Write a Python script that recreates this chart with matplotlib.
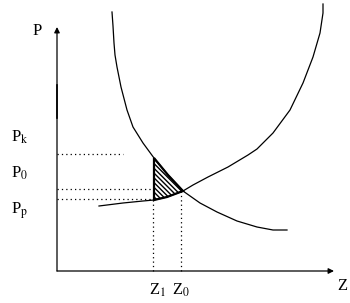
import numpy as np
import matplotlib
matplotlib.use('Agg')
import matplotlib.pyplot as plt

plt.rcParams['font.family'] = ['Liberation Serif', 'DejaVu Serif']
plt.rcParams['mathtext.fontset'] = 'stix'
plt.rcParams['hatch.linewidth'] = 1.0

# demand curve (Z, P)
demand_z = [55, 56, 57, 58, 60, 64, 70, 76, 86, 97, 111, 126, 143, 160, 180, 200, 216, 230]
demand_p = [259, 245, 228, 216, 204, 184, 161, 144, 128, 113, 96, 80, 68, 59, 50, 44, 41, 41]

# supply curve (Z, P)
supply_z = [42, 66, 86, 97, 110, 126, 136, 151, 171, 191, 200, 216, 233, 246, 256, 263, 266, 266]
supply_p = [65, 68, 70, 71, 74, 80, 86, 94, 104, 116, 122, 138, 161, 188, 214, 238, 258, 267]

# price levels and quantities
price_names = [r'P$_{\mathrm{k}}$', r'P$_{0}$', r'P$_{\mathrm{p}}$']
price_vals = [117, 82, 72]
price_ends = [66, 96, 96]
qty_names = [r'Z$_{1}$', r'Z$_{0}$']
qty_vals = [96, 124]
qty_tops = [71, 80]

fig = plt.figure(figsize=(3.5, 3.03), dpi=100)
ax = fig.add_axes([0, 0, 1, 1])
ax.set_xlim(-57, 293)
ax.set_ylim(-32, 271)
ax.axis('off')

arrow = dict(arrowstyle='-|>', lw=0.9, color='k', mutation_scale=8, shrinkA=0, shrinkB=0)
ax.annotate('', xy=(0, 244), xytext=(0, 0), arrowprops=arrow)
ax.annotate('', xy=(277, 0), xytext=(0, 0), arrowprops=arrow)
ax.plot([0, 0], [153, 186], color='k', lw=1.2)

ax.plot(demand_z, demand_p, color='k', lw=0.9)
ax.plot(supply_z, supply_p, color='k', lw=0.9)

# hatched area between Z1 and Z0
dz = np.array(demand_z)
sz = np.array(supply_z)
dm = (dz >= 96) & (dz <= 126)
sm = (sz >= 96) & (sz <= 126)
poly_z = np.concatenate([dz[dm], sz[sm][::-1]])
poly_p = np.concatenate([np.array(demand_p)[dm], np.array(supply_p)[sm][::-1]])
ax.fill(poly_z, poly_p, facecolor='white', edgecolor='k', hatch='\\' * 7, lw=1.6)

dot = (0, (1, 2.5))
for v, e in zip(price_vals, price_ends):
    ax.plot([0, e], [v, v], color='k', lw=0.9, ls=dot)
for q, t in zip(qty_vals, qty_tops):
    ax.plot([q, q], [0, t], color='k', lw=0.9, ls=dot)

ax.text(-20, 240, 'P', fontsize=12, ha='center', va='center')
for name, y in zip(price_names, [134, 98, 60]):
    ax.text(-46, y, name, fontsize=12, ha='left', va='center')
ax.text(101, -19, qty_names[0], fontsize=12, ha='center', va='center')
ax.text(124, -19, qty_names[1], fontsize=12, ha='center', va='center')
ax.text(285, -15, 'Z', fontsize=12, ha='center', va='center')

fig.savefig('out.png', dpi=100)
